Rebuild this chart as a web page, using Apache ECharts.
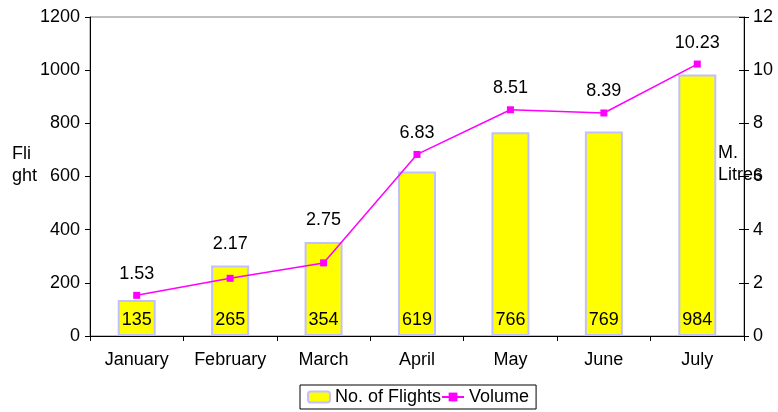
<!DOCTYPE html>
<html>
<head>
<meta charset="utf-8">
<script src="https://cdn.jsdelivr.net/npm/echarts@6/dist/echarts.min.js"></script>
<style>html,body{margin:0;padding:0;background:#fff;}#c{width:778px;height:412px;}</style>
</head>
<body>
<div id="c"></div>
<script>
var months = ['January', 'February', 'March', 'April', 'May', 'June', 'July'];
var flights = [135, 265, 354, 619, 766, 769, 984];
var volume = [1.53, 2.17, 2.75, 6.83, 8.51, 8.39, 10.23];
var flightTicks = {min: 0, max: 1200, interval: 200};
var volumeTicks = {min: 0, max: 12, interval: 2};
var leftAxisTitle = 'Fli\nght';
var rightAxisTitle = 'M.\nLitres';

var ratio = flightTicks.max / volumeTicks.max;
// label anchors: above whichever is higher, the point or the bar top
var labelAnchor = volume.map(function (v, i) { return Math.max(v, flights[i] / ratio); });

var FONT = 'Liberation Sans, Arial, sans-serif';
var plain = function (v) { return String(v); };
var chart = echarts.init(document.getElementById('c'), null, {renderer: 'canvas'});
chart.setOption({
  animation: false,
  textStyle: {fontFamily: FONT, color: '#000'},
  grid: {left: 90, right: 34, top: 17, bottom: 76, show: true, borderColor: '#808080', borderWidth: 1},
  graphic: [{
    type: 'text', left: 12, top: 143, z: 10,
    style: {text: leftAxisTitle, font: '18px ' + FONT, lineHeight: 22, fill: '#000'}
  }, {
    type: 'text', left: 718, top: 142, z: 10,
    style: {text: rightAxisTitle, font: '18px ' + FONT, lineHeight: 22, fill: '#000'}
  }],
  legend: {
    data: ['No. of Flights', 'Volume'],
    left: 300, top: 385,
    padding: [3, 7, 3, 7],
    itemGap: 0, itemWidth: 22, itemHeight: 11,
    borderColor: '#000', borderWidth: 1,
    selectedMode: false,
    textStyle: {fontFamily: FONT, fontSize: 18, color: '#000'}
  },
  xAxis: {
    type: 'category', data: months,
    axisLine: {lineStyle: {color: '#000', width: 1}},
    axisTick: {show: true, length: 5, lineStyle: {color: '#000'}},
    axisLabel: {fontSize: 18, color: '#000', margin: 15, interval: 0, fontFamily: FONT},
    splitLine: {show: false}
  },
  yAxis: [{
    type: 'value', position: 'left',
    min: flightTicks.min, max: flightTicks.max, interval: flightTicks.interval,
    axisLine: {show: true, lineStyle: {color: '#000'}},
    axisTick: {show: true, length: 5, lineStyle: {color: '#000'}},
    axisLabel: {fontSize: 18, color: '#000', margin: 10, formatter: plain, fontFamily: FONT},
    splitLine: {show: false}
  }, {
    type: 'value', position: 'right',
    min: volumeTicks.min, max: volumeTicks.max, interval: volumeTicks.interval,
    axisLine: {show: true, lineStyle: {color: '#000'}},
    axisTick: {show: true, length: 5, lineStyle: {color: '#000'}},
    axisLabel: {fontSize: 18, color: '#000', margin: 9, formatter: plain, fontFamily: FONT},
    splitLine: {show: false}
  }, {
    type: 'value', position: 'right',
    min: volumeTicks.min, max: volumeTicks.max, interval: volumeTicks.interval,
    axisLine: {show: false},
    axisTick: {show: true, inside: true, length: 5, lineStyle: {color: '#000'}},
    axisLabel: {show: false},
    splitLine: {show: false}
  }],
  series: [{
    name: 'No. of Flights', type: 'bar', data: flights, barWidth: 38,
    itemStyle: {color: '#ffff00', borderColor: '#c0c0ff', borderWidth: 2},
    label: {show: true, position: 'insideBottom', distance: 7, fontSize: 18, color: '#000', fontFamily: FONT},
    z: 2
  }, {
    name: 'Volume', type: 'line', yAxisIndex: 1, data: volume,
    symbol: 'rect', symbolSize: 7,
    lineStyle: {color: '#ff00ff', width: 1.5},
    itemStyle: {color: '#ff00ff'},
    z: 3
  }, {
    name: 'VolumeLabels', type: 'scatter', yAxisIndex: 1,
    data: labelAnchor,
    symbol: 'rect', symbolSize: 7,
    itemStyle: {color: 'rgba(0,0,0,0)', opacity: 1},
    silent: true,
    label: {
      show: true, position: 'top', distance: 9, fontSize: 18, color: '#000', fontFamily: FONT,
      formatter: function (p) { return volume[p.dataIndex].toFixed(2); }
    },
    z: 4
  }]
});
</script>
</body>
</html>
